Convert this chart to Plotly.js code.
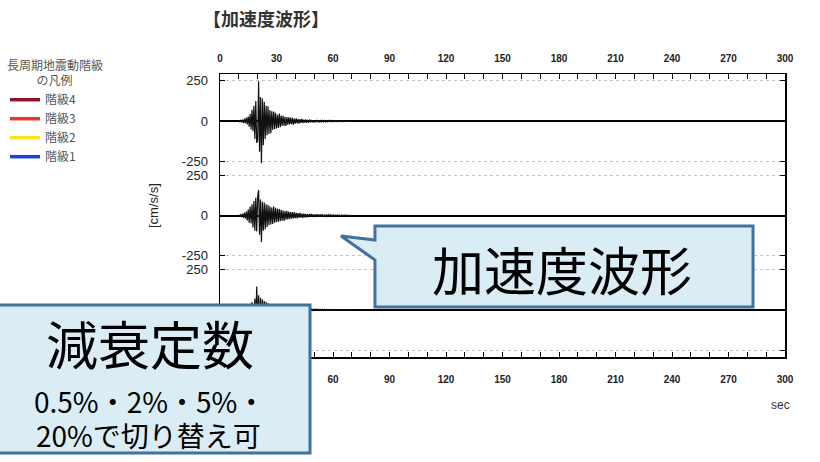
<!DOCTYPE html>
<html>
<head>
<meta charset="utf-8">
<script src="https://cdn.plot.ly/plotly-3.0.1.min.js"></script>
<style>
  html, body { margin: 0; padding: 0; background: #ffffff; }
  #chart { width: 820px; height: 462px; }
</style>
</head>
<body>
<div id="chart"></div>
<script>
// Acceleration records [cm/s/s], sampled every 0.5 s from t = 10 s.
const sampleStart = 10;
const sampleStep = 0.5;

// Top record
const acc1 = [
  3, -4, 5, -6, 9, -12, 15, -13, 22, -20,            // 10.0 - 14.5 s
  28, -34, 45, -52, 70, -62, 95, -110, 125, -135,    // 15.0 - 19.5 s
  -120, 248, -190, 150, -262, 140, -150, 120, -110, 95, // 20.0 - 24.5 s
  -88, 92, -80, 70, -75, 62, -55, 60, -48, 52,       // 25.0 - 29.5 s
  -45, 40, -42, 48, -38, 35, -30, 34, -28, 25,       // 30.0 - 34.5 s
  -30, 26, -22, 24, -20, 22, -18, 20, -22, 16,       // 35.0 - 39.5 s
  -15, 18, -14, 12, -15, 13, -11, 14, -12, 10,       // 40.0 - 44.5 s
  -9, 11, -10, 8, -9, 10, -7, 8, -7, 6,              // 45.0 - 49.5 s
  -8, 6, -5, 7, -6, 5, -5, 4, -6, 5,                 // 50.0 - 54.5 s
  -4, 4, -5, 3, -4, 4, -3, 4, -3, 3,                 // 55.0 - 59.5 s
  -4, 3, -2, 3, -3, 2, -2, 3, -2, 2,                 // 60.0 - 64.5 s
  -3, 2, -2, 2, -1, 2, -2, 1, -1, 1                  // 65.0 - 69.5 s
];

// Middle record
const acc2 = [
  4, -5, 7, -9, 12, -14, 18, -20, 25, -30,
  38, -45, 55, -50, 70, -75, 90, -95, 110, -100,
  120, 158, -120, 100, -165, 85, -95, 80, -85, 70,
  -72, 65, -60, 58, -55, 50, -52, 55, -45, 48,
  -40, 42, -38, 40, -35, 36, -32, 30, -34, 28,
  -26, 29, -24, 25, -22, 21, -20, 22, -18, 19,
  -17, 16, -18, 15, -14, 16, -13, 12, -14, 11,
  -12, 10, -11, 9, -10, 9, -8, 10, -8, 7,
  -9, 7, -6, 8, -7, 6, -6, 7, -5, 6,
  -6, 5, -5, 4, -5, 5, -4, 4, -4, 3,
  -4, 4, -3, 3, -3, 4, -3, 2, -3, 3,
  -2, 2, -2, 3, -2, 2, -1, 2, -1, 1
];

// Bottom record
const acc3 = [
  3, -3, 4, -5, 7, -9, 10, -14, 15, -20,
  22, -28, 35, -40, 48, -52, -62, 70, -75, 145,
  -95, 90, -100, 75, -80, 65, -60, 55, -50, 48,
  -45, 40, -38, 36, -34, 30, -28, 30, -25, 24,
  -22, 20, -21, 18, -17, 16, -15, 16, -14, 13,
  -12, 13, -11, 12, -10, 11, -10, 9, -9, 10,
  -8, 9, -8, 7, -8, 7, -6, 7, -6, 6,
  -6, 5, -5, 6, -5, 5, -4, 5, -4, 4,
  -4, 4, -3, 4, -3, 3, -3, 3, -3, 3,
  -2, 3, -2, 2, -2, 2, -2, 2, -2, 2,
  -2, 2, -1, 2, -1, 1, -1, 1, -1, 1,
  -1, 1, -1, 1, -1, 1, -1, 1, 0, 0
];

// Axis ticks
const accTicks = [-250, 0, 250];
const accTickText = ['-250', '0', '250'];

// Long-period ground motion class legend
const classNames = ['階級4', '階級3', '階級2', '階級1'];
const classColors = ['#8c1527', '#e8372b', '#ffe21a', '#1745e4'];

const chartTitle = '【加速度波形】';
const legendTitle = '長周期地震動階級<br>\u3000\u3000\u00a0\u00a0の凡例';
const unitLabel = '[cm/s/s]';
const timeLabel = 'sec';
const waveCallout = '加速度波形';
const dampingCallout = ['減衰定数', '0.5%・2%・5%・', '20%で切り替え可'];

// ---- page geometry (pixels) ----
const W = 820, H = 462;
const ML = 220, MR = 35, MT = 74, MB = 105;
const PW = W - ML - MR, PH = H - MT - MB;
const px = x => (x - ML) / PW;          // pixel x -> paper x
const py = y => (H - MB - y) / PH;      // pixel y -> paper y

const times = acc1.map((_, i) => sampleStart + i * sampleStep);

const waveStyle = { color: '#111111', width: 1.2 };
const traces = [
  { x: times, y: acc1, xaxis: 'x', yaxis: 'y',  type: 'scatter', mode: 'lines', line: waveStyle, showlegend: false, hoverinfo: 'skip' },
  { x: times, y: acc2, xaxis: 'x', yaxis: 'y2', type: 'scatter', mode: 'lines', line: waveStyle, showlegend: false, hoverinfo: 'skip' },
  { x: times, y: acc3, xaxis: 'x', yaxis: 'y3', type: 'scatter', mode: 'lines', line: waveStyle, showlegend: false, hoverinfo: 'skip' }
];
// legend-only entries for the class colours (attached to the top time axis)
classNames.forEach((name, i) => {
  traces.push({
    x: [null], y: [null], xaxis: 'x2', yaxis: 'y',
    type: 'scatter', mode: 'lines', name: name,
    line: { color: classColors[i], width: 3.5 },
    showlegend: true, hoverinfo: 'skip'
  });
});

const tickFontX = { family: 'Liberation Sans, Arial, sans-serif', size: 10, color: '#222', weight: 'bold' };
const tickFontY = { family: 'Liberation Sans, Arial, sans-serif', size: 13, color: '#222' };

const timeAxis = (extra) => Object.assign({
  range: [0, 300], autorange: false,
  tickmode: 'linear', tick0: 0, dtick: 30,
  ticks: 'inside', ticklen: 5, tickwidth: 1, tickcolor: '#000',
  minor: { tickmode: 'linear', tick0: 0, dtick: 10, ticks: 'inside', ticklen: 5, tickwidth: 1, tickcolor: '#000', showgrid: false },
  showline: true, linecolor: '#000', linewidth: 1.5,
  showgrid: false, zeroline: false, fixedrange: true, showticklabels: true,
  tickfont: tickFontX
}, extra);

const accAxis = (domain) => ({
  domain: domain, anchor: 'x', range: [-293, 293], autorange: false,
  tickmode: 'array', tickvals: accTicks, ticktext: accTickText,
  ticks: 'inside', ticklen: 5, tickwidth: 1, tickcolor: '#000',
  showline: true, mirror: 'ticks', linecolor: '#000', linewidth: 1.5,
  showgrid: true, gridcolor: '#c4c4c4', griddash: 'dot', gridwidth: 1,
  zeroline: true, zerolinecolor: '#000', zerolinewidth: 2,
  tickfont: tickFontY, ticklabelstandoff: 8, fixedrange: true
});

const calloutFill = '#daedf4';
const calloutLine = { color: '#41719c', width: 3 };

const wavePath = [
  [375, 226], [753, 226], [753, 307], [375, 307], [375, 260], [341, 236], [375, 240]
].map((p, i) => (i ? 'L' : 'M') + px(p[0]).toFixed(4) + ',' + py(p[1]).toFixed(4)).join(' ') + ' Z';

const centered = { xref: 'paper', yref: 'paper', xanchor: 'center', yanchor: 'middle', showarrow: false };

const layout = {
  width: W, height: H, autosize: false,
  margin: { l: ML, r: MR, t: MT, b: MB, pad: 0, autoexpand: false },
  paper_bgcolor: '#ffffff', plot_bgcolor: '#ffffff',
  font: { family: 'Liberation Sans, Arial, sans-serif', color: '#222' },
  title: {
    text: chartTitle, xref: 'container', x: 203 / W, xanchor: 'left',
    yref: 'container', y: 1 - 20 / H, yanchor: 'middle',
    font: { family: 'Noto Sans CJK JP', size: 18, weight: 'bold', color: '#333' }
  },
  xaxis: timeAxis({ anchor: 'y3', side: 'bottom', ticklabelstandoff: 12 }),
  xaxis2: timeAxis({ anchor: 'y', side: 'top', overlaying: 'x', ticklabelstandoff: 7 }),
  yaxis: accAxis([2 / 3, 1]),
  yaxis2: accAxis([1 / 3, 2 / 3]),
  yaxis3: accAxis([0, 1 / 3]),
  showlegend: true,
  legend: {
    x: px(5), y: py(54), xanchor: 'left', yanchor: 'top',
    bgcolor: 'rgba(0,0,0,0)', borderwidth: 0,
    itemwidth: 30, traceorder: 'normal',
    font: { family: 'Noto Sans CJK JP', size: 12, color: '#555' },
    title: { text: legendTitle, side: 'top', font: { family: 'Noto Sans CJK JP', size: 12, color: '#555' } }
  },
  shapes: [
    { type: 'path', xref: 'paper', yref: 'paper', path: wavePath, fillcolor: calloutFill, line: calloutLine, layer: 'above' },
    { type: 'rect', xref: 'paper', yref: 'paper', x0: px(-10), x1: px(310), y0: py(453), y1: py(305), fillcolor: calloutFill, line: calloutLine, layer: 'above' }
  ],
  annotations: [
    Object.assign({ text: unitLabel, x: px(153), y: py(206), textangle: -90,
      font: { family: 'Liberation Sans, Arial, sans-serif', size: 13, color: '#222' } }, centered),
    Object.assign({ text: timeLabel, x: px(780), y: py(405),
      font: { family: 'Liberation Sans, Arial, sans-serif', size: 12, color: '#333' } }, centered),
    Object.assign({ text: waveCallout, x: px(562), y: py(268),
      font: { family: 'Noto Sans CJK JP', size: 52, color: '#000' } }, centered),
    Object.assign({ text: dampingCallout[0], x: px(150), y: py(342),
      font: { family: 'Noto Sans CJK JP', size: 52, color: '#000' } }, centered),
    Object.assign({ text: dampingCallout[1], x: px(149), y: py(401),
      font: { family: 'Noto Sans CJK JP', size: 28, color: '#000' } }, centered),
    Object.assign({ text: dampingCallout[2], x: px(148), y: py(435),
      font: { family: 'Noto Sans CJK JP', size: 28, color: '#000' } }, centered)
  ]
};

Plotly.newPlot('chart', traces, layout, { displayModeBar: false, staticPlot: true });
</script>
</body>
</html>
